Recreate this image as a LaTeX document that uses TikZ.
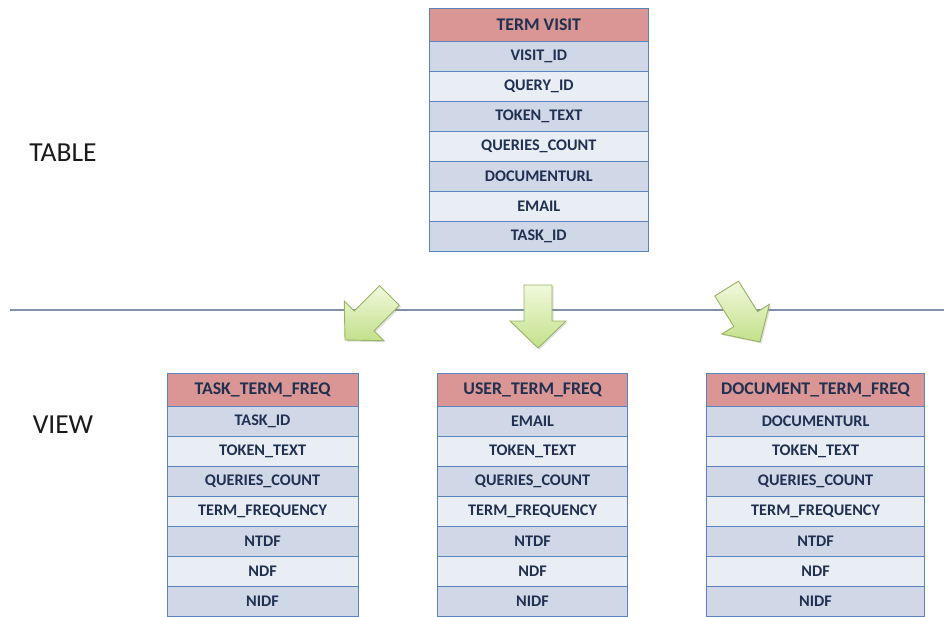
\documentclass[tikz,border=0pt]{standalone}
\usepackage{fontspec}
\setmainfont{Carlito}
\usetikzlibrary{calc,shadows}
\definecolor{hdrfill}{HTML}{D99694}
\definecolor{rowdark}{HTML}{D0D8E8}
\definecolor{rowlight}{HTML}{E9EDF4}
\definecolor{tblborder}{HTML}{5A84BE}
\definecolor{txtc}{HTML}{1F3050}
\definecolor{sepline}{HTML}{8090A8}
\definecolor{arrtop}{HTML}{F0F9DC}
\definecolor{arrbot}{HTML}{C3E08A}
\definecolor{arrdraw}{HTML}{98B462}
\definecolor{lbl}{HTML}{1A1A1A}
\tikzset{
  cell/.style={draw=tblborder, line width=1.1pt, minimum height=30pt, inner sep=0pt,
    anchor=north west, text=txtc, font=\fontsize{16.2}{17}\selectfont\bfseries},
  hdrcell/.style={cell, fill=hdrfill, minimum height=33pt, font=\fontsize{17.8}{18}\selectfont\bfseries},
  sidelabel/.style={text=lbl, font=\fontsize{27.5}{28}\selectfont, inner sep=0pt},
  blockarrow/.style={draw=arrdraw, line width=0.9pt, top color=arrtop, bottom color=arrbot,
    line join=miter, drop shadow={opacity=0.25, shadow xshift=1.5pt, shadow yshift=-1.5pt}},
}
% #1 name, #2 x, #3 y (top), #4 width, #5 header, #6 rows
\newcommand\dbtab[6]{%
  \node[hdrcell, minimum width=#4pt] (#1h) at (#2,#3) {#5};
  \foreach \t [count=\i] in {#6} {
    \ifodd\i \tikzset{cur/.style={fill=rowdark}}\else\tikzset{cur/.style={fill=rowlight}}\fi
    \pgfmathsetmacro\yy{#3+33+30*(\i-1)}
    \node[cell, cur, minimum width=#4pt] (#1r\i) at (#2,\yy) {\t};
  }
}
\newcommand\blockarr[3]{%
  \begin{scope}[shift={(#1,#2)}, rotate=#3]
    \path[blockarrow] (-14,-63) -- (14,-63) -- (14,-27) -- (28,-27) -- (0,0)
      -- (-28,-27) -- (-14,-27) -- cycle;
  \end{scope}
}
\begin{document}
\begin{tikzpicture}[x=1pt,y=-1pt]
\useasboundingbox (0,0) rectangle (944,617);
% labels
\node[sidelabel] (tablelbl) at (63,152.5) {TABLE};
\node[sidelabel] (viewlbl) at (63,424.5) {VIEW};
% separator line
\coordinate (lineL) at (10,309.5);
\coordinate (lineR) at (944,309.5);
\draw[sepline, line width=2pt] (lineL) -- (lineR);
% block arrows
\blockarr{345}{340}{-45}
\blockarr{538}{348}{0}
\blockarr{760}{342}{32}
% tables
\dbtab{tv}{428.5}{8}{219.5}{TERM VISIT}{VISIT\_ID,QUERY\_ID,TOKEN\_TEXT,QUERIES\_COUNT,DOCUMENTURL,EMAIL,TASK\_ID}
\dbtab{ttf}{166.5}{372.5}{191}{TASK\_TERM\_FREQ}{TASK\_ID,TOKEN\_TEXT,QUERIES\_COUNT,TERM\_FREQUENCY,NTDF,NDF,NIDF}
\dbtab{utf}{437}{372.5}{190}{USER\_TERM\_FREQ}{EMAIL,TOKEN\_TEXT,QUERIES\_COUNT,TERM\_FREQUENCY,NTDF,NDF,NIDF}
\dbtab{dtf}{706}{372.5}{218}{DOCUMENT\_TERM\_FREQ}{DOCUMENTURL,TOKEN\_TEXT,QUERIES\_COUNT,TERM\_FREQUENCY,NTDF,NDF,NIDF}
\end{tikzpicture}
\end{document}
